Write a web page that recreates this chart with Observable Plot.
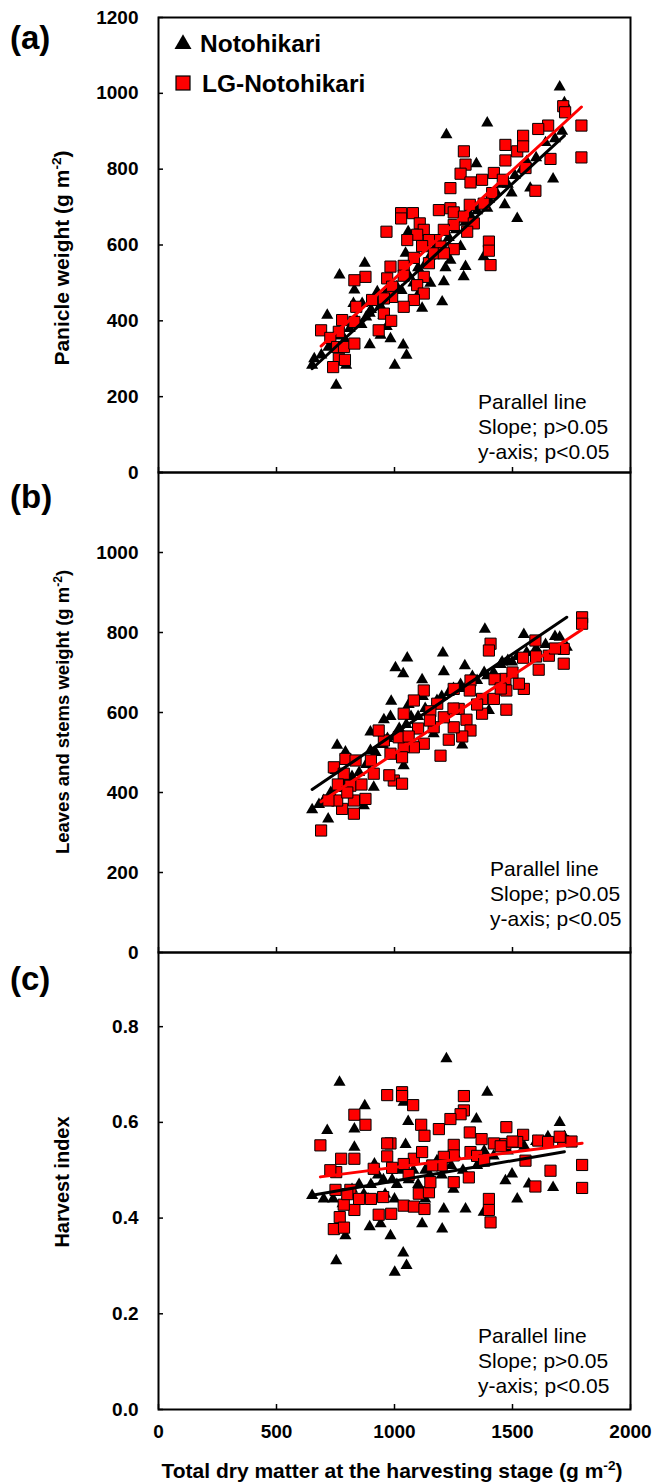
<!DOCTYPE html>
<html><head><meta charset="utf-8">
<script src="https://cdn.jsdelivr.net/npm/d3@7"></script>
<script src="https://cdn.jsdelivr.net/npm/@observablehq/plot@0.6"></script>
<style>
body{margin:0;background:#fff;}
#fig{position:relative;width:654px;height:1483px;background:#fff;overflow:hidden;}
#fig svg{position:absolute;left:0;}
</style></head><body><div id="fig"></div>
<script>
const xTicks = [0, 500, 1000, 1500, 2000];
const weightTicks = [0, 200, 400, 600, 800, 1000, 1200];
const weightTicksB = [0, 200, 400, 600, 800, 1000];
const hiTicks = [0, 0.2, 0.4, 0.6, 0.8];
const seriesNames = ["Notohikari", "LG-Notohikari"];
const panelLabels = ["(a)", "(b)", "(c)"];
const statLines = ["Parallel line", "Slope; p>0.05", "y-axis; p<0.05"];

// (a) Panicle weight vs total dry matter
const panicleNoto = [[1700,1017],[1720,975],[1393,922],[1220,891],[1347,814],[1672,774],[1510,783],[1496,737],[1575,750],[1467,706],[1520,670],[1393,697],[1058,635],[1047,578],[1280,596],[1237,560],[1216,540],[1301,543],[1293,516],[1209,503],[1202,450],[1378,569],[1117,433],[1152,499],[767,521],[874,552],[830,481],[826,446],[863,446],[715,415],[651,283],[753,230],[895,337],[941,362],[983,353],[1037,336],[1051,309],[1001,283],[795,283],[927,477],[895,420],[953,414],[967,385],
[660,300],[690,310],[720,330],[740,340],[770,360],[790,350],[810,380],[840,400],[860,390],[880,410],[900,430],[920,450],[940,440],[960,470],[990,460],[1010,490],[1030,480],[1060,520],[1080,500],[1100,540],[1130,550],[1150,570],[1170,590],[1190,600],[1230,620],[1260,640],[1300,660],[1320,680],[1350,690],[1400,720],[1430,740],[1450,760],[1480,760],[1540,800],[1560,820],[1600,830],[1640,870],[1680,880],[1710,900],[1160,610],[1240,650],[1110,480]];
const panicleLG = [[1715,966],[1723,950],[1792,915],[1792,831],[1651,915],[1609,906],[1661,827],[1545,888],[1470,864],[1520,847],[1545,860],[1555,803],[1470,823],[1597,743],[1294,847],[1301,812],[1280,788],[1371,772],[1421,790],[1322,765],[1237,750],[1459,772],[1414,737],[1378,709],[1319,706],[1188,692],[1237,697],[1251,686],[1294,675],[1336,657],[1308,635],[1251,653],[1209,640],[1174,613],[1195,596],[1251,589],[1400,609],[1400,585],[1407,547],[1028,684],[1028,670],[1078,684],[966,635],[1107,657],[1124,640],[1146,613],[1117,597],[1082,566],[1146,552],[1124,516],[1096,494],[1124,472],[1082,455],[1039,437],[1039,545],[1039,519],[983,543],[969,512],[990,490],[990,463],[955,459],[905,455],[955,419],[986,400],[933,375],[877,516],[830,507],[838,437],[778,402],[830,397],[764,371],[689,375],[728,355],[757,331],[786,331],[830,340],[764,300],[790,297],[740,278],[1096,627],[1054,613],[1167,578],[1209,578]];

// (b) Leaves and stems weight vs total dry matter
const leafNoto = [[1383,808],[1548,795],[1700,788],[1730,763],[1205,749],[1054,736],[1004,712],[1037,697],[1209,702],[1298,717],[1117,682],[1456,726],[1498,726],[1393,692],[986,628],[983,590],[955,582],[898,551],[757,518],[792,501],[898,505],[651,357],[719,334],[1039,467],[1287,519],[1400,605],[1166,547],[912,413],[750,455],[870,367],
[680,370],[700,380],[730,400],[760,410],[780,420],[800,430],[820,440],[850,450],[880,470],[920,500],[950,520],[970,535],[1000,540],[1020,560],[1050,570],[1070,590],[1100,590],[1130,610],[1150,600],[1180,630],[1200,640],[1230,650],[1250,660],[1280,670],[1300,660],[1330,690],[1350,680],[1380,700],[1420,700],[1450,720],[1480,730],[1520,740],[1560,750],[1600,760],[1640,770],[1680,790],[1060,620],[1120,640]];
const leafLG = [[1795,838],[1795,822],[1717,759],[1717,722],[1654,742],[1611,707],[1597,780],[1545,737],[1548,659],[1527,672],[1470,684],[1474,655],[1474,607],[1421,634],[1407,772],[1400,755],[1424,683],[1371,597],[1371,634],[1322,680],[1319,655],[1251,659],[1272,609],[1305,582],[1322,555],[1287,540],[1251,563],[1230,532],[1195,492],[1209,588],[1181,622],[1124,655],[1082,630],[1039,597],[1152,603],[1166,563],[1124,522],[1082,513],[1039,514],[1018,538],[983,497],[955,530],[933,555],[1032,488],[997,430],[1032,422],[978,443],[912,447],[877,384],[828,380],[828,347],[778,359],[757,380],[743,463],[792,484],[835,480],[785,447],[813,417],[689,305],
[1100,560],[1060,540],[1150,580],[1250,610],[1350,620],[1450,660],[1500,700],[1600,740],[1680,760],[900,480],[860,420],[760,420],[720,380],[800,400]];

// (c) Harvest index vs total dry matter
const hiNoto = [[1220,0.733],[767,0.684],[1393,0.663],[874,0.635],[1039,0.642],[1700,0.600],[1347,0.607],[1058,0.602],[715,0.583],[830,0.586],[830,0.548],[1047,0.554],[1569,0.471],[1672,0.464],[1470,0.478],[1498,0.492],[1520,0.440],[651,0.447],[1209,0.419],[1301,0.419],[1378,0.412],[1117,0.388],[1202,0.377],[895,0.382],[941,0.388],[983,0.363],[792,0.363],[753,0.311],[1037,0.327],[1051,0.301],[1001,0.287],[915,0.513],[953,0.48],[888,0.44],
[700,0.44],[740,0.44],[780,0.43],[800,0.45],[820,0.46],[850,0.47],[870,0.45],[900,0.47],[930,0.49],[960,0.45],[990,0.48],[1010,0.47],[1030,0.5],[1060,0.48],[1080,0.5],[1100,0.47],[1130,0.5],[1150,0.49],[1180,0.52],[1200,0.49],[1240,0.51],[1260,0.53],[1290,0.5],[1320,0.53],[1350,0.51],[1380,0.54],[1420,0.53],[1450,0.55],[1480,0.54],[1550,0.55],[1600,0.56],[1650,0.57],[1720,0.57],[1130,0.44],[1250,0.46],[1000,0.44]];
const hiLG = [[969,0.657],[1032,0.663],[1032,0.655],[1079,0.636],[1294,0.655],[1294,0.625],[1280,0.617],[1237,0.607],[830,0.616],[877,0.595],[1113,0.595],[1127,0.572],[1188,0.586],[1319,0.579],[1369,0.565],[1474,0.590],[1545,0.574],[1609,0.562],[1651,0.559],[1715,0.561],[1795,0.511],[1795,0.463],[1661,0.499],[1597,0.466],[1520,0.559],[1421,0.556],[1470,0.555],[1555,0.52],[1400,0.440],[1400,0.417],[1407,0.391],[1251,0.553],[1251,0.531],[1322,0.538],[1315,0.485],[1251,0.475],[1209,0.528],[1082,0.524],[1117,0.538],[1039,0.513],[983,0.556],[969,0.529],[969,0.556],[990,0.505],[912,0.503],[830,0.524],[774,0.524],[753,0.496],[728,0.50],[686,0.552],[750,0.459],[813,0.459],[830,0.417],[785,0.428],[768,0.402],[743,0.377],[786,0.38],[952,0.444],[986,0.409],[933,0.407],[1039,0.426],[1082,0.424],[1127,0.419],[1103,0.451],[1146,0.454],[1152,0.475],
[1350,0.53],[1380,0.52],[1450,0.55],[1500,0.56],[1200,0.51],[1160,0.51],[1060,0.49],[900,0.44],[850,0.44],[800,0.45],[1700,0.57],[1750,0.56]];

const FONT = '"Liberation Sans", Arial, sans-serif';
const fig = document.getElementById("fig");
const X = d => d[0], Y = d => d[1];

function panel({noto, lg, yDomain, yTicks, yLabelTicks, yFormat, top, height, mTop, mBottom, showX}) {
  const svg = Plot.plot({
    width: 654, height,
    marginLeft: 158, marginRight: 24, marginTop: mTop, marginBottom: mBottom,
    x: {domain: [0, 2000]},
    y: {domain: yDomain},
    style: {background: "transparent", overflow: "visible", fontFamily: FONT, color: "black"},
    marks: [
      Plot.dot(noto, {x: X, y: Y, symbol: "triangle", r: 4.5, fill: "black"}),
      Plot.dot(lg, {x: X, y: Y, symbol: "square", r: 6.3, fill: "#ff0000", stroke: "black", strokeWidth: 1}),
      Plot.linearRegressionY(lg, {x: X, y: Y, stroke: "#ff0000", strokeWidth: 3, ci: 0}),
      Plot.linearRegressionY(noto, {x: X, y: Y, stroke: "black", strokeWidth: 3, ci: 0}),
      Plot.axisY(yTicks, {tickSize: 5, dx: 5, fill: "none", stroke: "black", strokeWidth: 1.5}),
      Plot.axisX(xTicks, {tickSize: 5, dy: -5, fill: "none", stroke: "black", strokeWidth: 1.5}),
      Plot.axisY(yLabelTicks, {tickSize: 0, tickPadding: 20, tickFormat: yFormat, label: null, fill: "black", fontSize: 19, fontWeight: "bold"}),
      showX ? Plot.axisX(xTicks, {tickSize: 0, tickPadding: 15, tickFormat: d3.format("d"), label: null, fill: "black", fontSize: 19, fontWeight: "bold"}) : null,
      Plot.frame({stroke: "black", strokeWidth: 2})
    ]
  });
  svg.style.top = top + "px";
  fig.appendChild(svg);
}

panel({noto: panicleNoto, lg: panicleLG, yDomain: [0, 1200], yTicks: weightTicks, yLabelTicks: weightTicks, yFormat: d3.format("d"), top: 0, height: 480, mTop: 17, mBottom: 8, showX: false});
panel({noto: leafNoto, lg: leafLG, yDomain: [0, 1200], yTicks: weightTicks, yLabelTicks: weightTicksB, yFormat: d3.format("d"), top: 464, height: 496, mTop: 8, mBottom: 8, showX: false});
panel({noto: hiNoto, lg: hiLG, yDomain: [0, 0.955], yTicks: hiTicks, yLabelTicks: hiTicks, yFormat: d3.format(".1f"), top: 944, height: 539, mTop: 8, mBottom: 74, showX: true});

// overlay: titles, panel letters, legend, statistics notes
const ov = d3.select(fig).append("svg").attr("width", 654).attr("height", 1483)
  .style("top", "0px").style("pointer-events", "none").style("font-family", FONT);

function titleWithUnit(sel, main, fs) {
  sel.append("tspan").text(main + " (g m");
  sel.append("tspan").attr("dy", -fs * 0.4).attr("font-size", fs * 0.65).text("-2");
  sel.append("tspan").attr("dy", fs * 0.4).text(")");
}
// y titles
[[258, "Panicle weight", true, 21], [712, "Leaves and stems weight", true, 18.5], [1182, "Harvest index", false, 20]].forEach(([cy, t, unit, fs]) => {
  const tx = ov.append("text").attr("transform", `translate(69,${cy}) rotate(-90)`)
    .attr("text-anchor", "middle").attr("font-size", fs).attr("font-weight", "bold");
  if (unit) titleWithUnit(tx, t, fs); else tx.text(t);
});
// x title
titleWithUnit(ov.append("text").attr("x", 392).attr("y", 1478).attr("text-anchor", "middle")
  .attr("font-size", 21).attr("font-weight", "bold"), "Total dry matter at the harvesting stage", 21);

// panel letters
[49, 508, 990].forEach((by, i) => {
  ov.append("text").attr("x", 10).attr("y", by).attr("font-size", 33).attr("font-weight", "bold").text(panelLabels[i]);
});

// legend
ov.append("path").attr("d", d3.symbol(d3.symbolTriangle, 125)()).attr("transform", "translate(183,44)").attr("fill", "black");
ov.append("text").attr("x", 200).attr("y", 52).attr("font-size", 24.5).attr("font-weight", "bold").text(seriesNames[0]);
ov.append("rect").attr("x", 176).attr("y", 76).attr("width", 14).attr("height", 14).attr("fill", "#ff0000").attr("stroke", "black").attr("stroke-width", 1.2);
ov.append("text").attr("x", 202).attr("y", 92).attr("font-size", 24.5).attr("font-weight", "bold").text(seriesNames[1]);

// statistics notes
[[478, 409], [490, 876], [478, 1343]].forEach(([x0, y0]) => {
  statLines.forEach((s, j) => {
    ov.append("text").attr("x", x0).attr("y", y0 + j * 25).attr("font-size", 21).text(s);
  });
});
</script></body></html>
